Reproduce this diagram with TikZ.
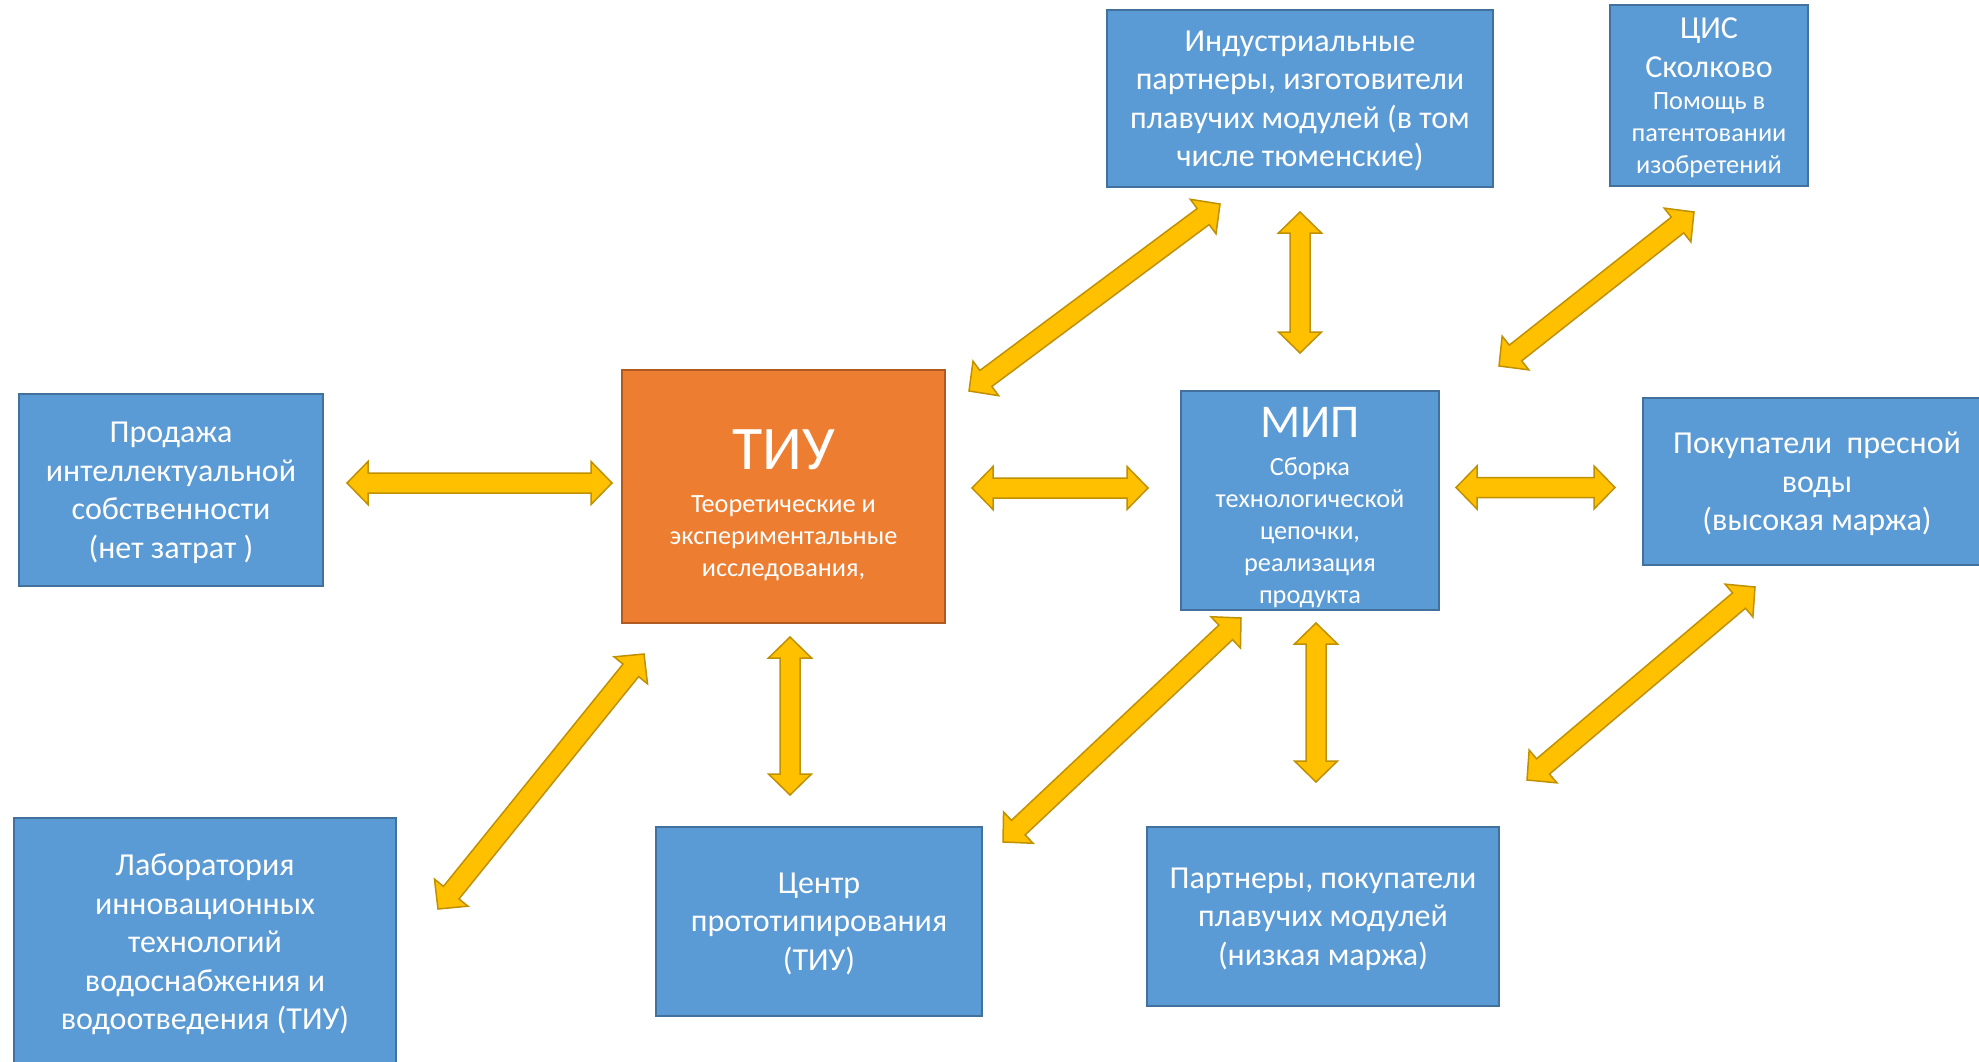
\documentclass[tikz,border=0pt]{standalone}
\usepackage{fontspec}
\setmainfont{Carlito}
\usetikzlibrary{calc}
\definecolor{boxblue}{HTML}{5B9BD5}
\definecolor{boxedge}{HTML}{41719C}
\definecolor{tiuorange}{HTML}{ED7D31}
\definecolor{tiuedge}{HTML}{AE5A21}
\definecolor{arrowfill}{HTML}{FFC000}
\definecolor{arrowedge}{HTML}{BF9000}
\tikzset{
  blue box/.style={
    fill=boxblue,
    draw=boxedge,
    line width=2.5pt,
    text=white,
    align=center,
    inner sep=0pt,
    text depth=0pt,
    font=\fontsize{32}{38.5}\selectfont,
  },
  orange box/.style={
    blue box,
    fill=tiuorange,
    draw=tiuedge,
  },
  small text/.style={
    font=\fontsize{26.3}{32}\selectfont,
  },
  box text/.style={
    text=white,
    align=center,
    inner sep=0pt,
    small text,
  },
  link/.style={
    fill=arrowfill,
    draw=arrowedge,
    line width=1.5pt,
    line join=miter,
  }
}
\newcommand{\biarrow}[2]{%
  \coordinate (h1) at ($(#1)!21pt!(#2)$);
  \coordinate (h2) at ($(#2)!21pt!(#1)$);
  \draw [link] (#1)
    -- ($(h1)!21.5pt!90:(#2)$) -- ($(h1)!10pt!90:(#2)$)
    -- ($(h2)!10pt!-90:(#1)$) -- ($(h2)!21.5pt!-90:(#1)$)
    -- (#2)
    -- ($(h2)!21.5pt!90:(#1)$) -- ($(h2)!10pt!90:(#1)$)
    -- ($(h1)!10pt!-90:(#2)$) -- ($(h1)!21.5pt!-90:(#2)$)
    -- cycle;
}

\begin{document}
\begin{tikzpicture}[x=1pt, y=-1pt]
  \useasboundingbox (0,0) rectangle (1979,1062);
  \clip (0,0) rectangle (1979,1062);

  % boxes
  \node [blue box, minimum width=304pt, minimum height=192pt] (sale) at (171,490)
    {Продажа\\интеллектуальной\\собственности\\(нет затрат )};
  \node [orange box, minimum width=323pt, minimum height=253pt] (tiu) at (783.5,496.5) {};
  \node [box text] (tiu text) at (783.5,505.5)
    {{\fontsize{62}{62}\selectfont ТИУ}\\[11pt]Теоретические и\\экспериментальные\\исследования,};
  \node [blue box, minimum width=386pt, minimum height=177pt] (ind) at (1300,98.5)
    {Индустриальные\\партнеры, изготовители\\плавучих модулей (в том\\числе тюменские)};
  \node [blue box, small text, minimum width=198pt, minimum height=181pt] (cis) at (1709,95.5)
    {{\fontsize{32}{38.5}\selectfont ЦИС}\\[7pt]{\fontsize{32}{38.5}\selectfont Сколково}\\[-0.5pt]Помощь в\\патентовании\\изобретений};
  \node [blue box, minimum width=258pt, minimum height=219pt] (mip) at (1310,500.5) {};
  \node [box text] (mip text) at (1310,507.5)
    {{\fontsize{47}{47}\selectfont МИП}\\[6pt]Сборка\\технологической\\цепочки,\\реализация\\продукта};
  \node [blue box, minimum width=348pt, minimum height=167pt] (buy) at (1817,481.5)
    {Покупатели\ \ пресной\\воды\\(высокая маржа)};
  \node [blue box, minimum width=382pt, minimum height=248pt] (lab) at (205,942)
    {Лаборатория\\инновационных\\технологий\\водоснабжения и\\водоотведения (ТИУ)};
  \node [blue box, minimum width=326pt, minimum height=189pt] (proto) at (819,921.5)
    {Центр\\прототипирования\\(ТИУ)};
  \node [blue box, minimum width=352pt, minimum height=179pt] (part) at (1323,916.5)
    {Партнеры, покупатели\\плавучих модулей\\(низкая маржа)};

  % arrow ends
  \coordinate (a1) at (347,483);   \coordinate (b1) at (612,483);
  \coordinate (a2) at (972,488);   \coordinate (b2) at (1148,488);
  \coordinate (a3) at (1456,487.5); \coordinate (b3) at (1615,487.5);
  \coordinate (a4) at (969,391);   \coordinate (b4) at (1220,204);
  \coordinate (a5) at (1300,212);  \coordinate (b5) at (1300,353);
  \coordinate (a6) at (1499,366);  \coordinate (b6) at (1694,212);
  \coordinate (a7) at (790,637);   \coordinate (b7) at (790,795);
  \coordinate (a8) at (644,654);   \coordinate (b8) at (438,909);
  \coordinate (a9) at (1241,618);  \coordinate (b9) at (1003,842);
  \coordinate (a10) at (1316,623); \coordinate (b10) at (1316,782);
  \coordinate (a11) at (1755,587); \coordinate (b11) at (1527,780);

  \biarrow{a1}{b1}
  \biarrow{a2}{b2}
  \biarrow{a3}{b3}
  \biarrow{a4}{b4}
  \biarrow{a5}{b5}
  \biarrow{a6}{b6}
  \biarrow{a7}{b7}
  \biarrow{a8}{b8}
  \biarrow{a9}{b9}
  \biarrow{a10}{b10}
  \biarrow{a11}{b11}
\end{tikzpicture}
\end{document}
